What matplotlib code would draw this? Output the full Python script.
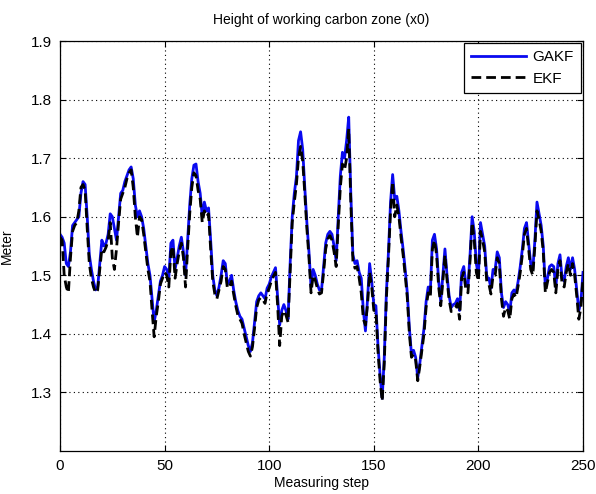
import matplotlib
matplotlib.use('Agg')
import matplotlib.pyplot as plt

plt.rcParams['font.family'] = ['Liberation Sans', 'DejaVu Sans']

# estimated height of the working carbon zone, one value per measuring step (0..250)
gakf = [
    1.570, 1.565, 1.555, 1.520, 1.515, 1.540, 1.585, 1.590, 1.595, 1.600,
    1.640, 1.660, 1.655, 1.600, 1.535, 1.510, 1.490, 1.475, 1.480, 1.520,
    1.560, 1.550, 1.555, 1.570, 1.605, 1.600, 1.580, 1.560, 1.600, 1.640,
    1.645, 1.660, 1.670, 1.680, 1.685, 1.665, 1.620, 1.600, 1.610, 1.600,
    1.580, 1.550, 1.520, 1.500, 1.460, 1.420, 1.440, 1.465, 1.490, 1.500,
    1.515, 1.510, 1.495, 1.555, 1.560, 1.510, 1.530, 1.550, 1.565, 1.540,
    1.500, 1.560, 1.620, 1.665, 1.688, 1.690, 1.660, 1.640, 1.600, 1.625,
    1.610, 1.615, 1.560, 1.500, 1.475, 1.465, 1.480, 1.500, 1.525, 1.520,
    1.485, 1.490, 1.500, 1.475, 1.455, 1.440, 1.430, 1.425, 1.410, 1.395,
    1.380, 1.370, 1.385, 1.420, 1.455, 1.465, 1.470, 1.465, 1.460, 1.478,
    1.485, 1.497, 1.505, 1.513, 1.465, 1.415, 1.440, 1.450, 1.440, 1.425,
    1.520, 1.600, 1.640, 1.668, 1.730, 1.745, 1.715, 1.650, 1.590, 1.540,
    1.480, 1.510, 1.500, 1.485, 1.475, 1.475, 1.515, 1.555, 1.570, 1.575,
    1.570, 1.550, 1.525, 1.600, 1.670, 1.710, 1.700, 1.730, 1.770, 1.640,
    1.535, 1.520, 1.525, 1.505, 1.495, 1.440, 1.405, 1.460, 1.520, 1.490,
    1.450, 1.448, 1.380, 1.330, 1.290, 1.360, 1.470, 1.540, 1.625, 1.672,
    1.630, 1.635, 1.610, 1.575, 1.545, 1.510, 1.470, 1.410, 1.365, 1.372,
    1.360, 1.325, 1.350, 1.380, 1.410, 1.455, 1.480, 1.470, 1.560, 1.570,
    1.545, 1.490, 1.455, 1.500, 1.545, 1.500, 1.465, 1.445, 1.450, 1.452,
    1.460, 1.440, 1.505, 1.515, 1.485, 1.480, 1.535, 1.600, 1.575, 1.520,
    1.500, 1.590, 1.570, 1.550, 1.497, 1.495, 1.478, 1.510, 1.510, 1.540,
    1.530, 1.470, 1.445, 1.455, 1.450, 1.437, 1.470, 1.475, 1.470, 1.490,
    1.515, 1.545, 1.580, 1.590, 1.555, 1.520, 1.510, 1.560, 1.625, 1.605,
    1.585, 1.550, 1.480, 1.495, 1.515, 1.518, 1.515, 1.480, 1.520, 1.535,
    1.495, 1.490, 1.515, 1.530, 1.510, 1.530, 1.510, 1.475, 1.440, 1.455,
    1.505,
]

ekf = [
    1.565, 1.560, 1.500, 1.480, 1.470, 1.530, 1.575, 1.585, 1.590, 1.610,
    1.650, 1.655, 1.645, 1.580, 1.520, 1.495, 1.480, 1.470, 1.475, 1.510,
    1.545, 1.540, 1.548, 1.560, 1.590, 1.530, 1.510, 1.545, 1.590, 1.630,
    1.640, 1.650, 1.665, 1.675, 1.680, 1.650, 1.600, 1.565, 1.600, 1.595,
    1.570, 1.540, 1.510, 1.490, 1.440, 1.395, 1.430, 1.455, 1.485, 1.495,
    1.505, 1.500, 1.480, 1.540, 1.550, 1.495, 1.520, 1.540, 1.555, 1.530,
    1.480, 1.545, 1.605, 1.650, 1.675, 1.670, 1.645, 1.630, 1.590, 1.610,
    1.600, 1.605, 1.545, 1.490, 1.468, 1.460, 1.475, 1.490, 1.515, 1.510,
    1.478, 1.480, 1.490, 1.468, 1.448, 1.432, 1.425, 1.418, 1.400, 1.385,
    1.370, 1.362, 1.378, 1.410, 1.445, 1.458, 1.462, 1.458, 1.452, 1.470,
    1.478, 1.490, 1.498, 1.505, 1.450, 1.380, 1.430, 1.440, 1.432, 1.420,
    1.505, 1.590, 1.625, 1.655, 1.700, 1.720, 1.695, 1.640, 1.580, 1.530,
    1.470, 1.500, 1.492, 1.478, 1.468, 1.470, 1.505, 1.545, 1.562, 1.568,
    1.560, 1.540, 1.515, 1.585, 1.650, 1.690, 1.680, 1.700, 1.750, 1.625,
    1.525, 1.512, 1.515, 1.495, 1.470, 1.425, 1.415, 1.450, 1.505, 1.480,
    1.440, 1.440, 1.370, 1.320, 1.285, 1.350, 1.460, 1.530, 1.610, 1.660,
    1.600, 1.620, 1.600, 1.565, 1.535, 1.500, 1.462, 1.400, 1.360, 1.365,
    1.355, 1.320, 1.345, 1.372, 1.400, 1.445, 1.470, 1.462, 1.545, 1.560,
    1.535, 1.480, 1.448, 1.490, 1.535, 1.492, 1.458, 1.438, 1.442, 1.445,
    1.452, 1.425, 1.495, 1.505, 1.475, 1.470, 1.525, 1.590, 1.560, 1.505,
    1.490, 1.575, 1.560, 1.540, 1.488, 1.485, 1.468, 1.500, 1.500, 1.530,
    1.520, 1.460, 1.430, 1.445, 1.440, 1.425, 1.460, 1.468, 1.462, 1.482,
    1.505, 1.535, 1.570, 1.580, 1.545, 1.510, 1.500, 1.550, 1.610, 1.595,
    1.575, 1.540, 1.470, 1.488, 1.505, 1.510, 1.505, 1.470, 1.510, 1.525,
    1.485, 1.480, 1.505, 1.520, 1.500, 1.520, 1.500, 1.465, 1.425, 1.445,
    1.495,
]

steps = list(range(len(gakf)))
xticks = [0, 50, 100, 150, 200, 250]
yticks = [1.3, 1.4, 1.5, 1.6, 1.7, 1.8, 1.9]

fig = plt.figure(figsize=(5.96, 4.94), dpi=100)
ax = fig.add_axes([0.1007, 0.087, 0.8775, 0.83])

ax.plot(steps, gakf, color='#0a0af0', lw=2.0, label='GAKF')
ax.plot(steps, ekf, color='black', lw=2.0, ls=(0, (3.5, 1.8)), label='EKF')

ax.set_xlim(0, 250)
ax.set_ylim(1.2, 1.9)
ax.set_xticks(xticks)
ax.set_yticks(yticks)
ax.grid(True, color='black', ls=(0, (1, 3)), lw=0.8)
ax.tick_params(direction='in', top=True, right=True, labelsize=11, length=4, pad=6)
for s in ax.spines.values():
    s.set_linewidth(0.9)

ax.set_title('Height of working carbon zone (x0)', fontsize=10, pad=12)
ax.set_xlabel('Measuring step', fontsize=10, labelpad=2)
ax.set_ylabel('Meter', fontsize=10, labelpad=12)

leg = ax.legend(loc='upper right', fontsize=11, fancybox=False, framealpha=1,
                edgecolor='black', borderaxespad=0.1, handlelength=3.6,
                handletextpad=0.4, borderpad=0.5, labelspacing=0.5)
leg.get_frame().set_linewidth(0.9)

fig.savefig('out.png', dpi=100)
